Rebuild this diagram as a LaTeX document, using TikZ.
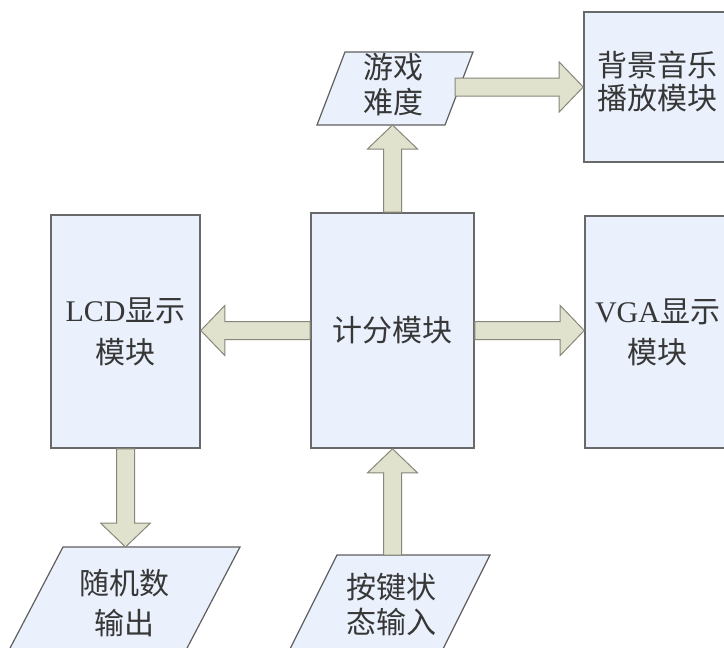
\documentclass[tikz,border=0pt]{standalone}
\usepackage{fontspec}
\setmainfont{Liberation Serif}
\newfontfamily\cjk{Noto Sans CJK SC}
\newfontfamily\lat{Liberation Serif}
\usetikzlibrary{calc}
\definecolor{boxfill}{RGB}{234,241,252}
\definecolor{boxline}{RGB}{105,105,105}
\definecolor{paraline}{RGB}{95,95,95}
\definecolor{arrfill}{RGB}{224,226,206}
\definecolor{arrline}{RGB}{135,135,122}
\definecolor{txt}{RGB}{55,55,55}
\newcommand\cjkfs[1]{\fontsize{30}{#1}\selectfont\cjk}
\newcommand\fatarrow[2]{%
  \coordinate (fahead) at ($(#2)!24pt!(#1)$);
  \path[fatarrow] ($(#1)!9pt!90:(#2)$) -- ($(fahead)!9pt!90:(#2)$) -- ($(fahead)!25pt!90:(#2)$)
    -- (#2) -- ($(fahead)!25pt!-90:(#2)$) -- ($(fahead)!9pt!-90:(#2)$) -- ($(#1)!9pt!-90:(#2)$) -- cycle;}
\begin{document}
\begin{tikzpicture}[x=1pt,y=-1pt,
  box/.style={draw=boxline, line width=1.6pt, fill=boxfill, inner sep=0pt, align=center, text=txt},
  para/.style={draw=paraline, line width=1.2pt, fill=boxfill, line join=miter},
  lbl/.style={align=center, text=txt, inner sep=0pt},
  fatarrow/.style={draw=arrline, line width=1pt, fill=arrfill, line join=miter}]
\useasboundingbox (0,0) rectangle (724,648);
\fill[white] (0,0) rectangle (724,648);
\clip (0,0) rectangle (724,648);

% boxes
\node[box, minimum width=146pt, minimum height=150pt] (bj) at (657,87) {};
\node[lbl, font=\cjkfs{33}] (bjt) at (657,82) {背景音乐\\播放模块};
\node[box, minimum width=149pt, minimum height=233pt, font=\cjkfs{42}] (lcd) at (125.5,331.5) {{\lat LCD}显示\\模块};
\node[box, minimum width=163pt, minimum height=235pt, font=\cjkfs{40}] (jf) at (392.5,330.5) {计分模块};
\node[box, minimum width=145pt, minimum height=232pt, font=\cjkfs{41}] (vga) at (657.5,332) {{\lat VGA}显示\\模块};

% parallelograms
\draw[para] (345,52) -- (473,52) -- (445,125) -- (317,125) -- cycle;
\node[lbl, font=\cjkfs{35}] (yx) at (393,84.5) {游戏\\难度};
\draw[para] (63,547) -- (240,547) -- (185,652) -- (8,652) -- cycle;
\node[lbl, font=\cjkfs{40}] (sj) at (124,603) {随机数\\输出};
\draw[para] (337,555) -- (490,555) -- (440,655) -- (287,655) -- cycle;
\node[lbl, font=\cjkfs{35}] (aj) at (391,604.5) {按键状\\态输入};

% connector end points
\coordinate (yxb) at (jf.north |- 0,125);
\coordinate (yxr) at (455,87);
\coordinate (lcdin) at (lcd.east |- jf.west);
\coordinate (vgain) at (vga.west |- jf.east);
\coordinate (sjtop) at (lcd.south |- 0,547);
\coordinate (ajtop) at (jf.south |- 0,555);

% block arrows
\fatarrow{jf.north}{yxb}
\fatarrow{yxr}{bj.west}
\fatarrow{jf.west}{lcdin}
\fatarrow{jf.east}{vgain}
\fatarrow{lcd.south}{sjtop}
\fatarrow{ajtop}{jf.south}
\end{tikzpicture}
\end{document}
